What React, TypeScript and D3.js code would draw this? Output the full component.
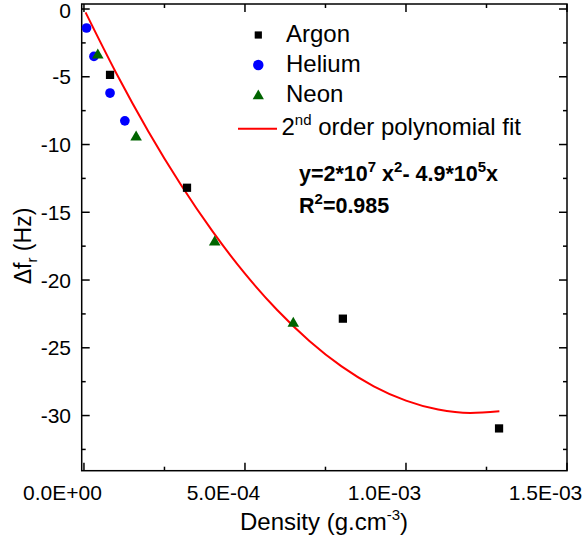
import * as d3 from 'd3';

const argonX = [8.1e-5, 3.2e-4, 8.04e-4, 1.289e-3];
const argonY = [-4.86, -13.19, -22.85, -30.95];
const heliumX = [8e-6, 3.1e-5, 8.1e-5, 1.27e-4];
const heliumY = [-1.4, -3.5, -6.2, -8.25];
const neonX = [4.3e-5, 1.62e-4, 4.06e-4, 6.5e-4];
const neonY = [-3.4, -9.45, -17.2, -23.2];

// fitted curve
const fitX = [5e-6, 1e-4, 2e-4, 3e-4, 4e-4, 5e-4, 6e-4, 7e-4, 8e-4, 9e-4, 1e-3, 1.1e-3, 1.2e-3, 1.29e-3];
const fitY = [-0.25, -4.72, -9.03, -12.93, -16.43, -19.53, -22.21, -24.49, -26.37, -27.84, -28.9, -29.56, -29.81, -29.69];

const xMajor = [0, 5e-4, 1e-3, 1.5e-3];
const xMajorLabels = ['0.0E+00', '5.0E-04', '1.0E-03', '1.5E-03'];
const xMinor = [2.5e-4, 7.5e-4, 1.25e-3];
const yMajor = [0, -5, -10, -15, -20, -25, -30];
const yMinor = [-2.5, -7.5, -12.5, -17.5, -22.5, -27.5, -32.5];

const W = 584;
const H = 540;
const left = 81.7, right = 567, top = 4, bottom = 470.7;

export default function App() {
  const x = d3.scaleLinear().domain([-7e-6, 1.5e-3]).range([left, right]);
  const y = d3.scaleLinear().domain([-34.07, 0.37]).range([bottom, top]);

  const fitLine = d3.line<number>()
    .x((_, i) => x(fitX[i]))
    .y(d => y(d))
    .curve(d3.curveMonotoneX);

  const square = d3.symbol().type(d3.symbolSquare).size(68)();
  const circle = d3.symbol().type(d3.symbolCircle).size(74)();
  const tri = d3.symbol().type(d3.symbolTriangle).size(58)();
  const squareL = d3.symbol().type(d3.symbolSquare).size(52)();
  const circleL = d3.symbol().type(d3.symbolCircle).size(86)();
  const triL = d3.symbol().type(d3.symbolTriangle).size(55)();

  const font = "'Liberation Sans', Arial, sans-serif";
  const major = 8, minor = 4;

  return (
    <svg width={W} height={H} style={{ position: 'absolute', left: 0, top: 0, background: '#fff' }}
      fontFamily={font}>
      {/* frame */}
      <rect x={left} y={top} width={right - left} height={bottom - top} fill="none" stroke="#000" strokeWidth={1.5} />

      {/* x ticks, bottom and top */}
      {xMajor.map((v, i) => (
        <g key={'xm' + i}>
          <line x1={x(v)} x2={x(v)} y1={bottom} y2={bottom - major} stroke="#000" strokeWidth={1.5} />
          <line x1={x(v)} x2={x(v)} y1={top} y2={top + major} stroke="#000" strokeWidth={1.5} />
          <text x={x(v) - 21.5} y={500} fontSize={21} textAnchor="middle">{xMajorLabels[i]}</text>
        </g>
      ))}
      {xMinor.map((v, i) => (
        <g key={'xn' + i}>
          <line x1={x(v)} x2={x(v)} y1={bottom} y2={bottom - minor} stroke="#000" strokeWidth={1.5} />
          <line x1={x(v)} x2={x(v)} y1={top} y2={top + minor} stroke="#000" strokeWidth={1.5} />
        </g>
      ))}

      {/* y ticks, left and right */}
      {yMajor.map((v, i) => (
        <g key={'ym' + i}>
          <line x1={left} x2={left + major} y1={y(v)} y2={y(v)} stroke="#000" strokeWidth={1.5} />
          <line x1={right} x2={right - major} y1={y(v)} y2={y(v)} stroke="#000" strokeWidth={1.5} />
          <text x={71} y={Math.max(y(v) + 7.5, 18)} fontSize={21} textAnchor="end">{v}</text>
        </g>
      ))}
      {yMinor.map((v, i) => (
        <g key={'yn' + i}>
          <line x1={left} x2={left + minor} y1={y(v)} y2={y(v)} stroke="#000" strokeWidth={1.5} />
          <line x1={right} x2={right - minor} y1={y(v)} y2={y(v)} stroke="#000" strokeWidth={1.5} />
        </g>
      ))}

      {/* axis titles */}
      <text x={324} y={530} fontSize={24} textAnchor="middle">
        Density (g.cm<tspan dy={-10} fontSize={15}>-3</tspan><tspan dy={10}>)</tspan>
      </text>
      <text transform="translate(31,246) rotate(-90)" fontSize={23} textAnchor="middle">
        Δf<tspan dy={6} fontSize={15}>r</tspan><tspan dy={-6}> (Hz)</tspan>
      </text>

      {/* fit curve */}
      <path d={fitLine(fitY) || ''} fill="none" stroke="#ff0000" strokeWidth={2} />

      {/* data */}
      {argonX.map((v, i) => (
        <path key={'a' + i} d={square || ''} transform={`translate(${x(v)},${y(argonY[i])})`} fill="#000" />
      ))}
      {heliumX.map((v, i) => (
        <path key={'h' + i} d={circle || ''} transform={`translate(${x(v)},${y(heliumY[i])})`} fill="#0000ff" />
      ))}
      {neonX.map((v, i) => (
        <path key={'n' + i} d={tri || ''} transform={`translate(${x(v)},${y(neonY[i])})`} fill="#006400" />
      ))}

      {/* legend */}
      <path d={squareL || ''} transform="translate(258.3,35)" fill="#000" />
      <text x={286} y={42} fontSize={24}>Argon</text>
      <path d={circleL || ''} transform="translate(258.3,65)" fill="#0000ff" />
      <text x={286} y={72} fontSize={24}>Helium</text>
      <path d={triL || ''} transform="translate(258.3,96)" fill="#006400" />
      <text x={286} y={102} fontSize={24}>Neon</text>
      <line x1={238} x2={277} y1={128.7} y2={128.7} stroke="#ff0000" strokeWidth={2} />
      <text x={281.5} y={135} fontSize={24}>
        2<tspan dy={-10} fontSize={15}>nd</tspan><tspan dy={10}> order polynomial fit</tspan>
      </text>

      {/* equation */}
      <text x={299} y={181} fontSize={21.5} fontWeight="bold">
        y=2*10<tspan dy={-9} fontSize={15}>7</tspan><tspan dy={9}> x</tspan><tspan dy={-9} fontSize={15}>2</tspan><tspan dy={9}>- 4.9*10</tspan><tspan dy={-9} fontSize={15}>5</tspan><tspan dy={9}>x</tspan>
      </text>
      <text x={299} y={213} fontSize={21.5} fontWeight="bold">
        R<tspan dy={-9} fontSize={15}>2</tspan><tspan dy={9}>=0.985</tspan>
      </text>
    </svg>
  );
}
